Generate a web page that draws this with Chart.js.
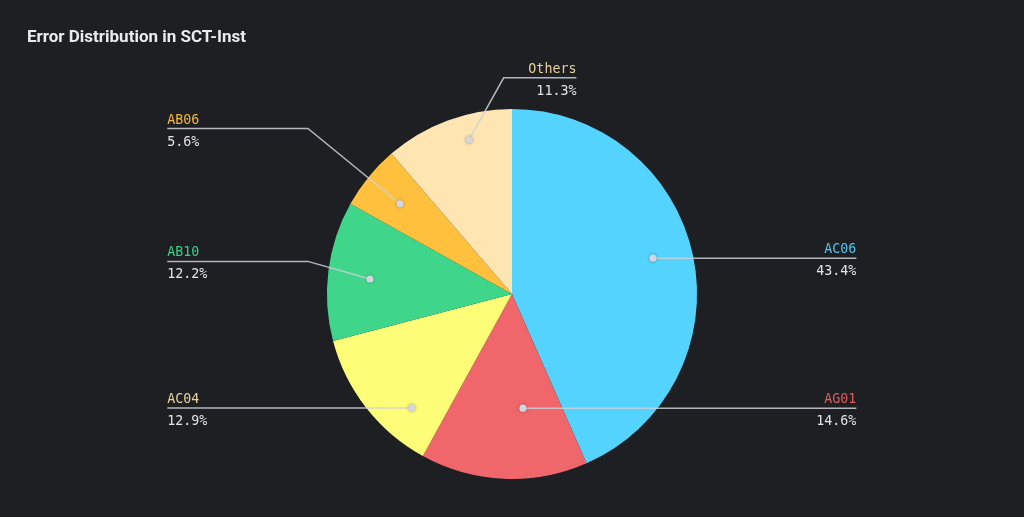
<!DOCTYPE html>
<html>
<head>
<meta charset="utf-8">
<script src="https://cdn.jsdelivr.net/npm/chart.js@4/dist/chart.umd.min.js"></script>
<style>
  html, body { margin: 0; padding: 0; background: #1d1f23; }
  #wrap { position: relative; width: 1024px; height: 517px; }
</style>
</head>
<body>
<div id="wrap"><canvas id="c" width="1024" height="517"></canvas></div>
<script>
// ---- data ----
const titleText = 'Error Distribution in SCT-Inst';
const categories = ['AC06', 'AG01', 'AC04', 'AB10', 'AB06', 'Others'];
const shares = [43.4, 14.6, 12.9, 12.2, 5.6, 11.3];
const sliceColors = ['#53d3fd', '#f0676b', '#fdfd78', '#3fd68c', '#ffc13d', '#ffe5b2'];
const labelColors = ['#4fc6ee', '#e35a5e', '#ead39c', '#3ccd88', '#f2b83a', '#e8d29c'];

// leader-line layout (in pie-radius units, relative to the arcs)
const leaderLayout = [
  { frac: 0.485, rf: 0.786, endX: 1.861 },
  { frac: 0.348, rf: 0.62,  endX: 1.861 },
  { frac: 0.27,  rf: 0.82,  endX: -1.863 },
  { frac: 0.473, rf: 0.772, elbow: [-1.103, -0.176], endX: -1.863 },
  { frac: 0.48,  rf: 0.777, elbow: [-1.103, -0.894], endX: -1.863 },
  { frac: 0.617, rf: 0.865, elbow: [-0.045, -1.168], endX: 0.348 }
];

const bgPlugin = {
  id: 'bg',
  beforeDraw(chart) {
    const ctx = chart.ctx;
    ctx.save();
    ctx.fillStyle = '#1d1f23';
    ctx.fillRect(0, 0, chart.width, chart.height);
    ctx.restore();
  }
};

const leaderPlugin = {
  id: 'leaders',
  afterDatasetsDraw(chart) {
    const ctx = chart.ctx;
    const meta = chart.getDatasetMeta(0);
    meta.data.forEach((arc, i) => {
      const p = arc.getProps(['x', 'y', 'startAngle', 'endAngle', 'outerRadius'], true);
      const L = leaderLayout[i];
      const R = p.outerRadius;
      const a = p.startAngle + L.frac * (p.endAngle - p.startAngle);
      const ax = p.x + Math.cos(a) * R * L.rf;
      const ay = p.y + Math.sin(a) * R * L.rf;
      const endX = p.x + L.endX * R;
      let lineY = ay;
      ctx.save();
      ctx.strokeStyle = 'rgba(205,209,216,0.85)';
      ctx.lineWidth = 1.5;
      ctx.beginPath();
      ctx.moveTo(ax, ay);
      if (L.elbow) {
        const ex = p.x + L.elbow[0] * R;
        const ey = p.y + L.elbow[1] * R;
        ctx.lineTo(ex, ey);
        lineY = ey;
      }
      ctx.lineTo(endX, lineY);
      ctx.stroke();
      // dot
      ctx.fillStyle = '#d3d6dc';
      ctx.shadowColor = 'rgba(0,0,0,0.35)';
      ctx.shadowBlur = 3;
      ctx.beginPath();
      ctx.arc(ax, ay, 3.6, 0, Math.PI * 2);
      ctx.fill();
      ctx.shadowBlur = 0;
      // text
      const alignRight = L.endX > 0;
      ctx.textAlign = alignRight ? 'right' : 'left';
      ctx.textBaseline = 'alphabetic';
      ctx.font = '13.3px "DejaVu Sans Mono", "Liberation Mono", monospace';
      ctx.fillStyle = labelColors[i];
      ctx.fillText(categories[i], endX, lineY - 5);
      ctx.fillStyle = '#e2e3e6';
      ctx.fillText(shares[i].toFixed(1) + '%', endX, lineY + 17);
      ctx.restore();
    });
  }
};

new Chart(document.getElementById('c'), {
  type: 'pie',
  data: {
    labels: categories,
    datasets: [{
      data: shares,
      backgroundColor: sliceColors,
      borderWidth: 0
    }]
  },
  options: {
    responsive: false,
    animation: false,
    layout: { padding: { left: 27, right: 27, top: 0, bottom: 38 } },
    plugins: {
      legend: { display: false },
      tooltip: { enabled: false },
      title: {
        display: true,
        text: titleText,
        align: 'start',
        color: '#e9ebee',
        font: { family: 'Roboto, "Noto Sans", sans-serif', size: 17, weight: 'bold' },
        padding: { top: 27.5, bottom: 61 }
      }
    }
  },
  plugins: [bgPlugin, leaderPlugin]
});
</script>
</body>
</html>
